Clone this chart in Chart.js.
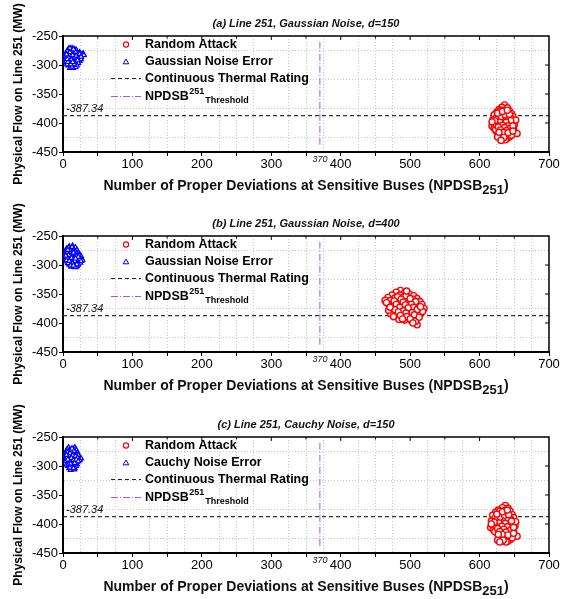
<!DOCTYPE html>
<html><head><meta charset="utf-8">
<script src="https://cdn.jsdelivr.net/npm/chart.js@4.4.0/dist/chart.umd.min.js"></script>
<style>
html,body{margin:0;padding:0;background:#fff;width:574px;height:599px;overflow:hidden;}
.p{position:absolute;left:0;width:574px;}
canvas{display:block;}
</style></head><body>
<div class="p" style="top:0px"><canvas id="c0" width="574" height="200" style="width:574px;height:200px"></canvas></div>
<div class="p" style="top:200px"><canvas id="c1" width="574" height="201" style="width:574px;height:201px"></canvas></div>
<div class="p" style="top:401px"><canvas id="c2" width="574" height="198" style="width:574px;height:198px"></canvas></div>
<script>
// ---------- data ----------
const PANEL_TITLES = ['(a) Line 251, Gaussian Noise, d=150', '(b) Line 251, Gaussian Noise, d=400', '(c) Line 251, Cauchy Noise, d=150'];
const NOISE_LABELS = ['Gaussian Noise Error', 'Gaussian Noise Error', 'Cauchy Noise Error'];
const X_RANGE = [0, 700];
const Y_RANGE = [-450, -250];
const THERMAL_RATING = -387.34;
const NPDSB_THRESHOLD = 370;
const THRESHOLD_SPAN = [-260, -441];

const RED_A = [[636,-369],[632,-373],[640,-374],[628,-377],[635,-378],[643,-379],[625,-381],[631,-382],[638,-383],[646,-384],
[621,-386],[628,-387],[634,-388],[641,-388],[648,-389],[624,-391],[630,-392],[637,-393],[644,-393],[619,-395],
[626,-396],[633,-397],[640,-397],[647,-398],[622,-400],[629,-401],[636,-401],[643,-402],[650,-403],[618,-405],
[625,-405],[632,-406],[639,-406],[646,-407],[621,-409],[628,-410],[635,-410],[642,-411],[649,-411],[624,-414],
[631,-414],[638,-415],[645,-416],[654,-418],[627,-418],[634,-419],[641,-420],[629,-422],[636,-423],[643,-424],
[632,-426],[639,-427],[626,-424],[646,-421],[620,-399],[652,-395],[630,-379],[644,-389],[623,-411],[637,-429],
[633,-385],[627,-392],[640,-392],[634,-395],[629,-398],[645,-396],[638,-399],[624,-403],[633,-404],[641,-405],
[627,-407],[636,-408],[644,-409],[630,-412],[639,-413],[634,-416],[622,-396],[648,-405],[631,-389],[637,-386],
[643,-385],[626,-383],[633,-380],[640,-378],[628,-416],[641,-417],[635,-425],[631,-430],[648,-414],[618,-398]];
const BLUE_A = [[8,-272],[13,-271],[17,-273],[6,-276],[11,-275],[15,-276],[20,-277],[24,-278],[29,-280],[4,-280],
[9,-279],[13,-280],[18,-281],[22,-282],[27,-282],[3,-284],[7,-284],[11,-284],[16,-285],[20,-286],
[25,-285],[5,-288],[9,-288],[14,-289],[18,-289],[22,-290],[3,-292],[7,-292],[12,-293],[16,-293],
[20,-294],[24,-293],[5,-296],[10,-297],[14,-297],[18,-298],[22,-297],[8,-301],[12,-301],[16,-302],
[20,-301],[10,-305],[14,-305],[18,-304],[6,-299],[11,-290],[15,-281],[19,-274],[23,-288],[13,-286],
[9,-283],[17,-295],[6,-286],[21,-279],[26,-290],[12,-277],[4,-294],[15,-300],[10,-271],[30,-283],
[10,-278],[14,-283],[8,-287],[17,-287],[12,-291],[20,-291],[9,-295],[16,-298],[13,-303],[5,-282],
[19,-284],[24,-281],[7,-295],[11,-299],[18,-277],[21,-292],[15,-273],[6,-290],[26,-286],[14,-295]];
const RED_B = [[486,-344],[480,-347],[492,-348],[499,-350],[474,-352],[485,-352],[505,-353],[468,-356],[478,-357],[490,-356],
[497,-357],[510,-358],[464,-361],[472,-361],[483,-362],[494,-361],[502,-362],[514,-363],[476,-366],[487,-366],
[496,-367],[507,-367],[517,-368],[470,-369],[481,-371],[491,-371],[500,-372],[511,-372],[520,-375],[474,-375],
[485,-376],[495,-376],[505,-377],[514,-378],[478,-380],[489,-381],[499,-381],[509,-382],[472,-384],[483,-385],
[493,-386],[503,-386],[513,-386],[487,-390],[497,-391],[507,-391],[492,-395],[502,-396],[510,-403],[480,-389],
[518,-380],[466,-365],[475,-371],[504,-359],[489,-360],[498,-385],[491,-377],[508,-397],[484,-394],[469,-378],
[482,-355],[494,-353],[487,-359],[500,-358],[477,-362],[508,-363],[490,-364],[480,-368],[502,-368],[493,-369],
[485,-373],[505,-373],[497,-374],[478,-377],[490,-379],[510,-377],[483,-381],[503,-382],[494,-383],[486,-387],
[506,-386],[476,-389],[495,-389],[500,-393],[489,-393],[515,-372],[471,-373],[513,-390],[504,-400],[495,-345]];
const BLUE_B = [[9,-268],[14,-267],[18,-270],[5,-272],[10,-272],[15,-273],[20,-274],[4,-276],[8,-276],[13,-277],
[18,-277],[22,-279],[3,-280],[7,-281],[12,-281],[16,-282],[21,-283],[25,-284],[5,-285],[10,-286],
[14,-286],[19,-287],[23,-288],[27,-289],[4,-289],[8,-290],[13,-291],[17,-291],[22,-292],[28,-292],
[6,-294],[11,-295],[15,-295],[20,-296],[25,-296],[9,-299],[13,-299],[18,-300],[22,-299],[12,-303],
[16,-303],[20,-302],[7,-297],[11,-278],[16,-285],[24,-292],[3,-283],[19,-280],[14,-271],[10,-290],
[17,-296],[21,-289],[6,-279],[26,-285],[8,-270],[15,-288],[12,-284],[23,-283],[5,-292],[18,-304],
[10,-275],[16,-279],[8,-283],[19,-285],[12,-288],[24,-290],[9,-293],[17,-293],[14,-297],[20,-299],
[6,-287],[11,-301],[15,-279],[22,-286],[4,-284],[13,-269],[26,-293],[18,-289],[7,-274],[15,-301]];
const RED_C = [[637,-368],[633,-372],[641,-373],[627,-376],[636,-377],[644,-378],[623,-380],[631,-381],[639,-382],[647,-384],
[619,-385],[627,-386],[635,-387],[642,-387],[649,-389],[622,-390],[630,-391],[638,-392],[645,-392],[617,-395],
[624,-396],[632,-396],[641,-397],[648,-398],[620,-400],[628,-401],[635,-402],[643,-402],[651,-403],[616,-406],
[623,-406],[631,-407],[639,-407],[646,-408],[620,-410],[627,-411],[634,-411],[642,-412],[649,-413],[625,-415],
[632,-416],[639,-416],[646,-417],[654,-421],[628,-420],[635,-421],[642,-422],[630,-425],[637,-426],[644,-427],
[633,-429],[640,-430],[626,-428],[647,-424],[618,-401],[652,-396],[629,-378],[643,-390],[622,-413],[638,-431],
[632,-384],[626,-391],[639,-391],[633,-394],[628,-398],[646,-395],[637,-399],[623,-403],[632,-404],[640,-405],
[626,-408],[635,-409],[645,-410],[629,-413],[638,-414],[633,-418],[621,-397],[649,-406],[630,-388],[636,-385],
[642,-384],[625,-383],[633,-379],[640,-376],[627,-418],[641,-419],[634,-428],[629,-431],[649,-416],[617,-400]];
const BLUE_C = [[8,-268],[17,-268],[6,-271],[10,-272],[15,-271],[19,-272],[5,-275],[9,-275],[13,-276],[17,-276],
[21,-277],[4,-279],[8,-280],[12,-280],[16,-280],[20,-281],[3,-283],[7,-284],[11,-284],[15,-284],
[19,-285],[23,-285],[26,-287],[5,-288],[9,-288],[13,-288],[17,-289],[21,-289],[4,-292],[8,-292],
[12,-293],[16,-293],[20,-293],[6,-296],[10,-297],[14,-297],[18,-297],[7,-300],[11,-301],[15,-301],
[19,-300],[9,-304],[13,-305],[17,-304],[11,-307],[6,-283],[14,-278],[18,-291],[10,-290],[22,-281],
[12,-299],[7,-276],[16,-286],[20,-297],[5,-298],[9,-282],[14,-292],[24,-290],[11,-274],[16,-306],
[10,-278],[14,-282],[6,-286],[18,-283],[12,-286],[15,-290],[9,-294],[17,-295],[13,-302],[8,-297],
[21,-286],[11,-296],[16,-274],[5,-281],[19,-289],[13,-270],[22,-292],[10,-303],[7,-289],[15,-304]];

const RED_SETS = [RED_A, RED_B, RED_C];
const BLUE_SETS = [BLUE_A, BLUE_B, BLUE_C];

// ---------- drawing ----------
const FONT = "'Liberation Sans', Arial, Helvetica, sans-serif";
Chart.defaults.font.family = FONT;
Chart.defaults.color = '#000';
const PURPLE = '#9b5de5';

function tri(ctx, x, y, r){
  ctx.beginPath();
  ctx.moveTo(x, y - r);
  ctx.lineTo(x + r*0.95, y + r*0.6);
  ctx.lineTo(x - r*0.95, y + r*0.6);
  ctx.closePath();
}

const deco = {
  id: 'deco',
  afterDatasetsDraw(chart){
    const ctx = chart.ctx, a = chart.chartArea, o = chart.options.plugins.deco;
    const xs = chart.scales.x, ys = chart.scales.y;
    ctx.save();
    // frame (top & right)
    ctx.strokeStyle = '#000'; ctx.lineWidth = 1.5;
    ctx.beginPath();
    ctx.moveTo(a.left, a.top); ctx.lineTo(a.right, a.top); ctx.lineTo(a.right, a.bottom);
    ctx.stroke();
    // inward ticks on top & right
    ctx.lineWidth = 1;
    for (let v = 50; v < 700; v += 50){
      const px = xs.getPixelForValue(v);
      ctx.beginPath(); ctx.moveTo(px, a.top); ctx.lineTo(px, a.top + (v % 100 === 0 ? 4 : 2.5)); ctx.stroke();
    }
    for (let v = -400; v > -450 && v <= -300; v += 50){
      const py = ys.getPixelForValue(v);
      ctx.beginPath(); ctx.moveTo(a.right, py); ctx.lineTo(a.right - 4, py); ctx.stroke();
    }
    // annotation of thermal rating
    ctx.fillStyle = '#111';
    ctx.font = 'italic 11px ' + FONT;
    ctx.textAlign = 'left'; ctx.textBaseline = 'alphabetic';
    ctx.fillText(String(THERMAL_RATING), a.left + 3, ys.getPixelForValue(THERMAL_RATING) - 4);
    // annotation of threshold
    ctx.font = 'italic 9px ' + FONT;
    ctx.textAlign = 'center';
    ctx.fillText(String(NPDSB_THRESHOLD), xs.getPixelForValue(NPDSB_THRESHOLD), a.bottom + 10);
    // panel title
    ctx.font = 'bold italic 11px ' + FONT;
    ctx.textAlign = 'center'; ctx.textBaseline = 'middle';
    ctx.fillText(o.title, (a.left + a.right) / 2, 24);
    // x axis title with subscript
    ctx.textBaseline = 'alphabetic'; ctx.textAlign = 'left';
    const t1 = 'Number of Proper Deviations at Sensitive Buses (NPDSB', t2 = '251', t3 = ')';
    ctx.font = 'bold 14px ' + FONT; const w1 = ctx.measureText(t1).width, w3 = ctx.measureText(t3).width;
    ctx.font = 'bold 13px ' + FONT; const w2 = ctx.measureText(t2).width;
    let x0 = (a.left + a.right) / 2 - (w1 + w2 + w3) / 2;
    const by = 190;
    ctx.font = 'bold 14px ' + FONT; ctx.fillText(t1, x0, by);
    ctx.font = 'bold 13px ' + FONT; ctx.fillText(t2, x0 + w1, by + 4);
    ctx.font = 'bold 14px ' + FONT; ctx.fillText(t3, x0 + w1 + w2, by);
    // legend
    const rows = [44.5, 61.5, 78.5, 96.5];
    const mx = 126, tx = 145;
    ctx.font = 'bold 12.5px ' + FONT; ctx.textBaseline = 'middle'; ctx.fillStyle = '#000';
    // row 1
    ctx.beginPath(); ctx.arc(mx, rows[0], 2.6, 0, Math.PI*2);
    ctx.fillStyle = '#fff'; ctx.fill(); ctx.strokeStyle = '#ff0000'; ctx.lineWidth = 1.2; ctx.stroke();
    ctx.fillStyle = '#000'; ctx.fillText('Random Attack', tx, rows[0]);
    // row 2
    tri(ctx, mx, rows[1] + 0.5, 3); ctx.fillStyle = '#fff'; ctx.fill(); ctx.strokeStyle = '#0000ff'; ctx.lineWidth = 1; ctx.stroke();
    ctx.fillStyle = '#000'; ctx.fillText(o.noise, tx, rows[1]);
    // row 3
    ctx.strokeStyle = '#222'; ctx.lineWidth = 1.2; ctx.setLineDash([4, 3]);
    ctx.beginPath(); ctx.moveTo(111, rows[2]); ctx.lineTo(141, rows[2]); ctx.stroke();
    ctx.fillText('Continuous Thermal Rating', tx, rows[2]);
    // row 4
    ctx.strokeStyle = PURPLE; ctx.lineWidth = 1; ctx.setLineDash([7, 2, 1, 2]);
    ctx.beginPath(); ctx.moveTo(111, rows[3]); ctx.lineTo(141, rows[3]); ctx.stroke();
    ctx.setLineDash([]);
    ctx.font = 'bold 12.5px ' + FONT; ctx.fillText('NPDSB', tx, rows[3]);
    const wn = ctx.measureText('NPDSB').width;
    ctx.font = 'bold 9px ' + FONT; ctx.fillText('251', tx + wn + 0.5, rows[3] - 5);
    const ws = ctx.measureText('251').width;
    ctx.fillText('Threshold', tx + wn + ws + 1.5, rows[3] + 4);
    ctx.restore();
  }
};

function pts(arr){ return arr.map(p => ({x: p[0], y: p[1]})); }

function makeChart(i){
  const canvas = document.getElementById('c' + i);
  const H = canvas.height;
  return new Chart(canvas, {
    type: 'scatter',
    data: { datasets: [
      { label: 'Random Attack', data: pts(RED_SETS[i]), pointStyle: 'circle', pointRadius: 3.1, pointHoverRadius: 3.1,
        borderColor: '#ff0000', backgroundColor: '#ffffff', borderWidth: 1.4, order: 1 },
      { label: NOISE_LABELS[i], data: pts(BLUE_SETS[i]), pointStyle: 'triangle', pointRadius: 2.8, pointHoverRadius: 2.8,
        borderColor: '#0000ff', backgroundColor: '#ffffff', borderWidth: 1.2, order: 2 },
      { label: 'Continuous Thermal Rating', data: [{x: X_RANGE[0], y: THERMAL_RATING}, {x: X_RANGE[1], y: THERMAL_RATING}],
        showLine: true, borderColor: '#333', borderDash: [4, 3], borderWidth: 1.3, pointRadius: 0, order: 5 },
      { label: 'NPDSB Threshold', data: [{x: NPDSB_THRESHOLD, y: THRESHOLD_SPAN[0]}, {x: NPDSB_THRESHOLD, y: THRESHOLD_SPAN[1]}],
        showLine: true, borderColor: PURPLE, borderDash: [7, 2, 1, 2], borderWidth: 1, pointRadius: 0, order: 6 }
    ]},
    options: {
      responsive: false, animation: false, events: [],
      layout: { padding: { top: 36, right: 25, left: 0, bottom: 0 } },
      plugins: { legend: { display: false }, tooltip: { enabled: false },
                 deco: { title: PANEL_TITLES[i], noise: NOISE_LABELS[i] } },
      scales: {
        x: { type: 'linear', min: X_RANGE[0], max: X_RANGE[1],
             afterFit(s){ s.height = H - 36 - 116; },
             ticks: { stepSize: 25, autoSkip: false, maxRotation: 0, padding: 1,
                      callback: v => (v % 100 === 0 ? String(v) : ''), font: { size: 13 }, color: '#000' },
             grid: { color: c => (c.tick && c.tick.value % 100 !== 0) ? '#c8c8c8' : 'rgba(0,0,0,0)',
                     tickColor: c => (c.tick && c.tick.value % 50 === 0) ? '#000' : 'rgba(0,0,0,0)',
                     tickLength: 4, lineWidth: 1, tickBorderDash: [] },
             border: { display: true, color: '#000', width: 2, dash: [1, 2] } },
        y: { type: 'linear', min: Y_RANGE[0], max: Y_RANGE[1],
             afterFit(s){ s.width = 63; },
             ticks: { stepSize: 25, autoSkip: false, padding: 1,
                      callback: v => (v % 50 === 0 ? String(v) : ''), font: { size: 13 }, color: '#000' },
             grid: { color: c => (c.tick && c.tick.value % 50 !== 0) ? '#c8c8c8' : 'rgba(0,0,0,0)',
                     tickColor: c => (c.tick && c.tick.value % 50 === 0) ? '#000' : 'rgba(0,0,0,0)',
                     tickLength: 4, lineWidth: 1, tickBorderDash: [] },
             border: { display: true, color: '#000', width: 2, dash: [1, 2] },
             title: { display: true, text: 'Physical Flow on Line 251 (MW)', font: { size: 12, weight: 'bold' },
                      color: '#000', padding: { top: 11, bottom: 0 } } }
      }
    },
    plugins: [deco]
  });
}
[0, 1, 2].forEach(makeChart);
</script>
</body></html>
